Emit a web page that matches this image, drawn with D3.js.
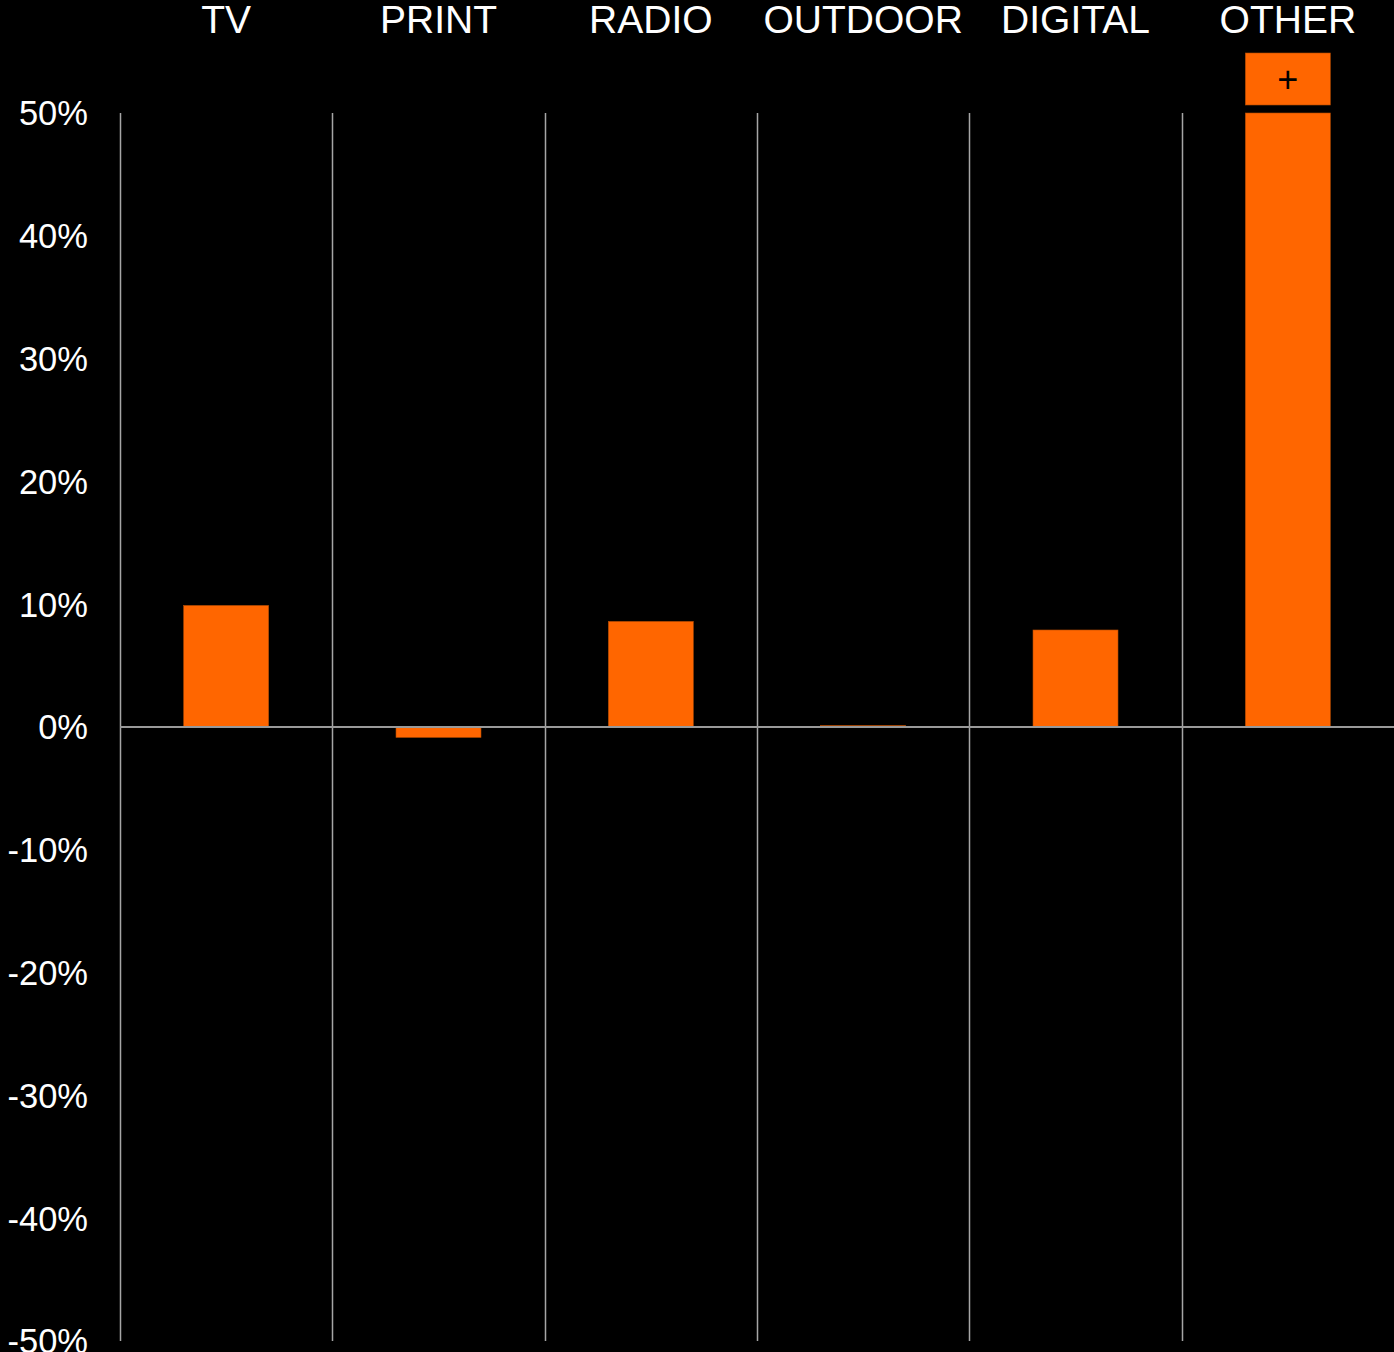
<!DOCTYPE html>
<html>
<head>
<meta charset="utf-8">
<script src="https://cdn.jsdelivr.net/npm/d3@7"></script>
<style>
  html, body { margin: 0; padding: 0; background: #000; }
  svg { display: block; }
</style>
</head>
<body>
<svg id="chart" width="1394" height="1352"></svg>
<script>
const categories = ["TV", "PRINT", "RADIO", "OUTDOOR", "DIGITAL", "OTHER"];
const values = [9.9, -0.85, 8.6, 0.12, 7.9, 62];
const yTicks = [50, 40, 30, 20, 10, 0, -10, -20, -30, -40, -50];

(function () {
const W = 1394, H = 1352;
const mLeft = 120, mRight = 1394, mTop = 113, mBottom = 1341;
const svg = d3.select("#chart");
svg.append("rect").attr("width", W).attr("height", H).attr("fill", "#000");

const x = d3.scaleBand().domain(categories).range([mLeft, mRight]).paddingInner(0).paddingOuter(0);
const y = d3.scaleLinear().domain([-50, 50]).range([mBottom, mTop]);
const barW = 85;

// vertical grid lines at column boundaries
const bounds = categories.map(c => x(c));
svg.append("g").selectAll("line").data(bounds).join("line")
  .attr("x1", d => Math.round(d) + 0.5).attr("x2", d => Math.round(d) + 0.5)
  .attr("y1", mTop).attr("y2", mBottom)
  .attr("stroke", "#a6a6a6").attr("stroke-width", 1.5);

// y tick labels
svg.append("g").selectAll("text").data(yTicks).join("text")
  .attr("x", 88).attr("y", d => y(d))
  .attr("dy", "0.36em")
  .attr("text-anchor", "end")
  .attr("fill", "#fff")
  .attr("font-family", "Liberation Sans, Arial, sans-serif")
  .attr("font-size", 34.5)
  .text(d => d + "%");

// category labels
svg.append("g").selectAll("text").data(categories).join("text")
  .attr("x", d => x(d) + x.bandwidth() / 2).attr("y", 33)
  .attr("text-anchor", "middle")
  .attr("fill", "#fff")
  .attr("font-family", "Liberation Sans, Arial, sans-serif")
  .attr("font-size", 39)
  .text(d => d);

// bars (clipped to the axis range)
const data = categories.map((c, i) => ({ c, v: values[i] }));
const clampV = v => Math.max(-50, Math.min(50, v));
svg.append("g").selectAll("rect").data(data).join("rect")
  .attr("x", d => x(d.c) + x.bandwidth() / 2 - barW / 2)
  .attr("width", barW)
  .attr("y", d => y(Math.max(0, clampV(d.v))))
  .attr("height", d => Math.max(1, Math.abs(y(clampV(d.v)) - y(0))))
  .attr("fill", "#ff6600")
  .attr("stroke", "#b04a00")
  .attr("stroke-width", 0.6);

// zero line
svg.append("line")
  .attr("x1", mLeft).attr("x2", mRight)
  .attr("y1", y(0)).attr("y2", y(0))
  .attr("stroke", "#999").attr("stroke-width", 2);

// overflow indicators
const over = data.filter(d => d.v > 50);
const ind = svg.append("g").selectAll("g").data(over).join("g");
ind.append("rect")
  .attr("x", d => x(d.c) + x.bandwidth() / 2 - barW / 2)
  .attr("width", barW)
  .attr("y", mTop - 60).attr("height", 52)
  .attr("fill", "#ff6600")
  .attr("stroke", "#b04a00").attr("stroke-width", 0.6);
ind.append("text")
  .attr("x", d => x(d.c) + x.bandwidth() / 2)
  .attr("y", mTop - 34)
  .attr("dy", "0.36em")
  .attr("text-anchor", "middle")
  .attr("fill", "#000")
  .attr("font-family", "Liberation Sans, Arial, sans-serif")
  .attr("font-size", 36)
  .text("+");
})();
</script>
</body>
</html>
